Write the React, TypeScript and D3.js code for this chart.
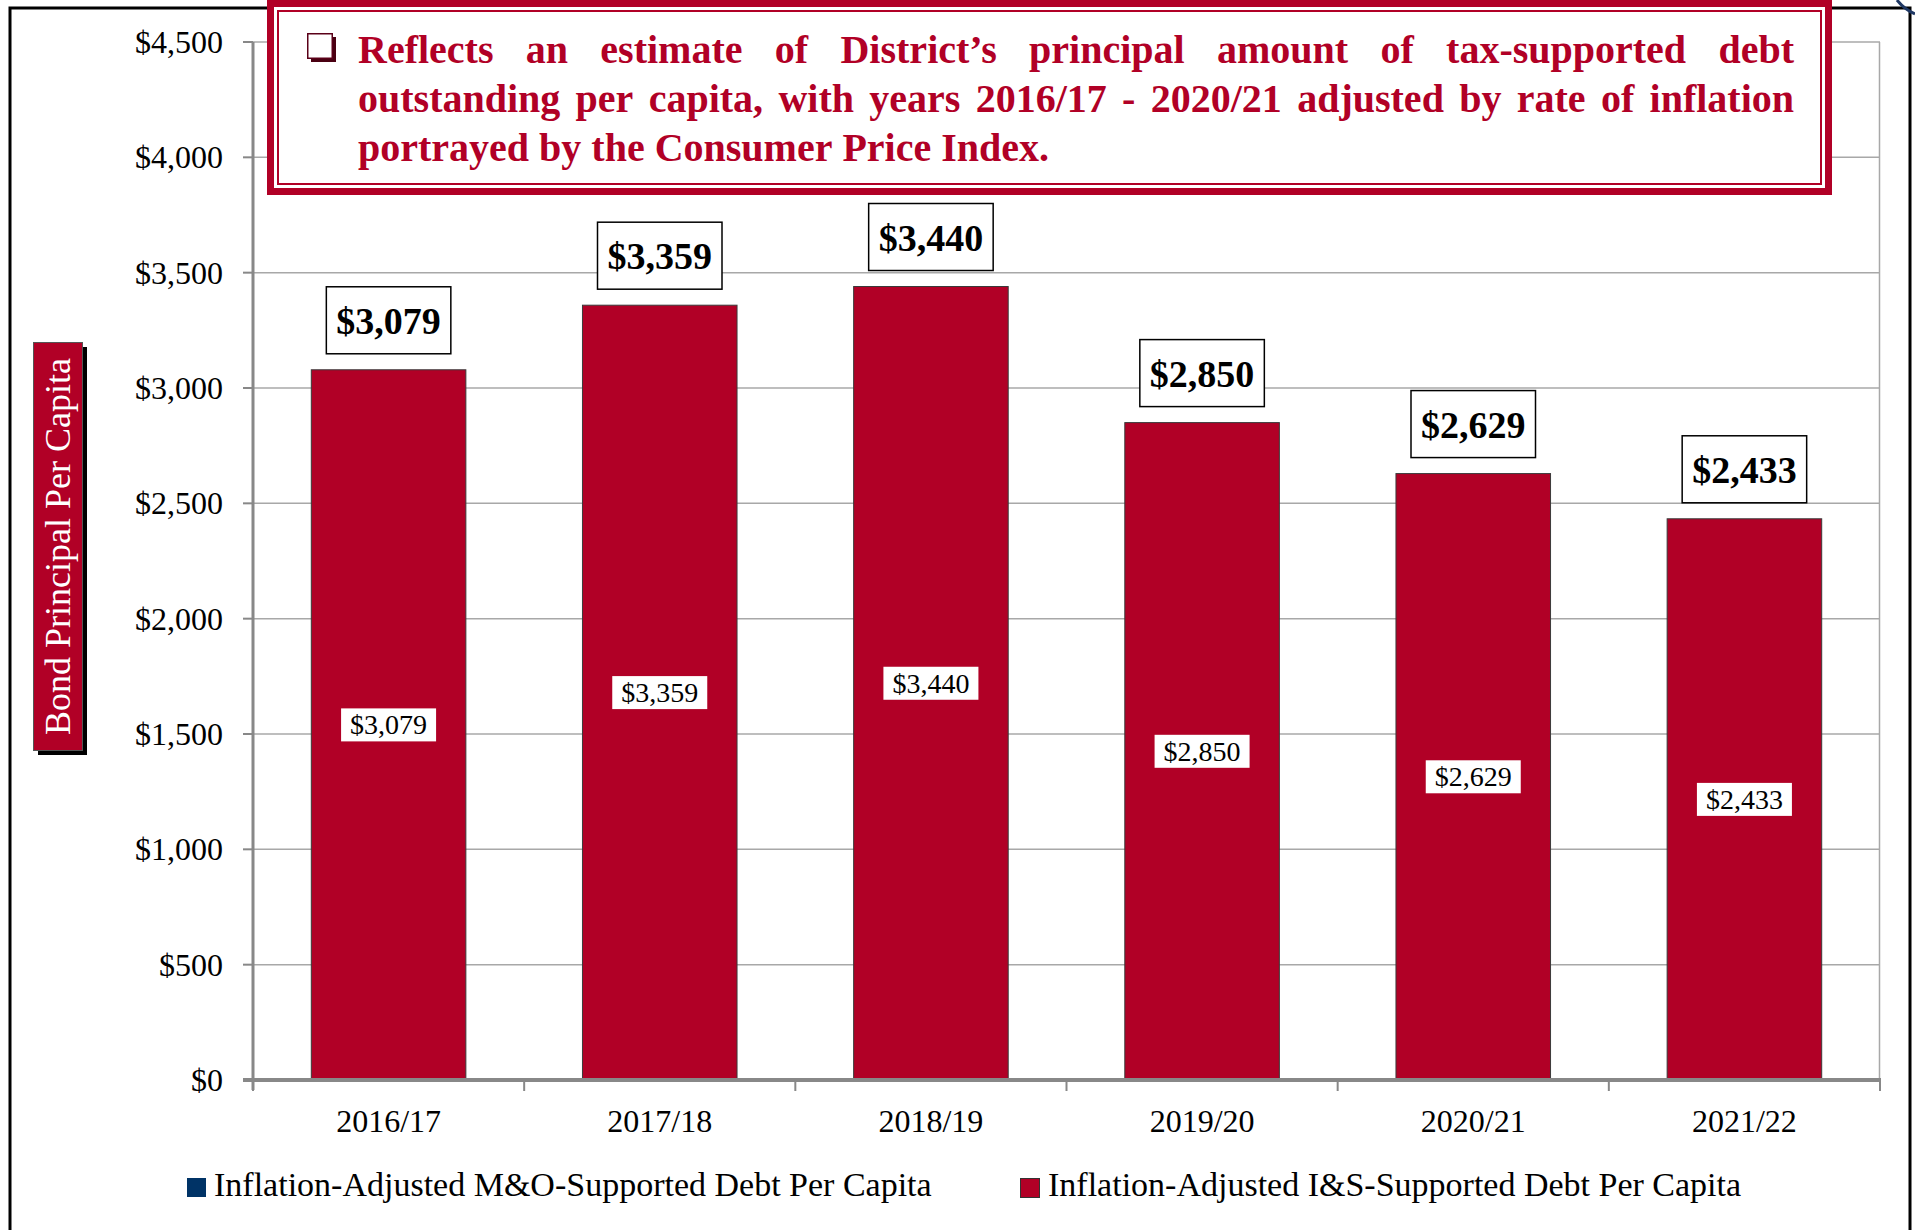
import React, { useMemo } from "react";
import * as d3 from "d3";

const categories = ["2016/17", "2017/18", "2018/19", "2019/20", "2020/21", "2021/22"];
const isValues = [3079, 3359, 3440, 2850, 2629, 2433];
const yTicks = [0, 500, 1000, 1500, 2000, 2500, 3000, 3500, 4000, 4500];
const legendLabels = [
  "Inflation-Adjusted M&O-Supported Debt Per Capita",
  "Inflation-Adjusted I&S-Supported Debt Per Capita",
];
const legendColors = ["#003366", "#B10026"];
const titleLines = [
  "Reflects an estimate of District\u2019s principal amount of tax-supported debt",
  "outstanding per capita, with years 2016/17 - 2020/21 adjusted by rate of inflation",
  "portrayed by the Consumer Price Index.",
];
const yAxisTitle = "Bond Principal Per Capita";

const W = 1915;
const H = 1230;
const FONT = '"Liberation Serif", "Times New Roman", serif';
const RED = "#B10026";

let _ctx: CanvasRenderingContext2D | null = null;
function measure(text: string, font: string): number {
  if (!_ctx) _ctx = document.createElement("canvas").getContext("2d");
  if (!_ctx) return text.length * 10;
  _ctx.font = font;
  return _ctx.measureText(text).width;
}

const fmt = (v: number) => "$" + d3.format(",")(v);

export default function App() {
  const x = d3.scaleBand<string>().domain(categories).range([253, 1880]).paddingInner(0.43).paddingOuter(0.215);
  const xStep = d3.scaleBand<string>().domain(categories).range([253, 1880]);
  const y = d3.scaleLinear().domain([0, 4500]).range([1080, 42]);

  const titleFontSize = 40;
  const titleFont = `bold ${titleFontSize}px ${FONT}`;
  const tLeft = 358;
  const tRight = 1794;

  const justified = useMemo(() => {
    return titleLines.map((line, li) => {
      const words = line.split(" ");
      const widths = words.map((w) => measure(w, titleFont));
      const spaceW = measure(" ", titleFont);
      const total = widths.reduce((a, b) => a + b, 0);
      const last = li === titleLines.length - 1;
      const gap = last ? spaceW : (tRight - tLeft - total) / (words.length - 1);
      let cx = tLeft;
      return words.map((w, i) => {
        const pos = cx;
        cx += widths[i] + gap;
        return { w, x: pos };
      });
    });
  }, []);

  const topFont = `bold 38px ${FONT}`;
  const inFont = `28px ${FONT}`;

  return (
    <svg
      width={W}
      height={H}
      viewBox={`0 0 ${W} ${H}`}
      style={{ position: "absolute", left: 0, top: 0, display: "block", background: "#fff" }}
      fontFamily={FONT}
    >
      <rect x={0} y={0} width={W} height={H} fill="#fff" />
      {/* outer frame */}
      <rect x={10} y={8} width={1900} height={1300} fill="none" stroke="#000" strokeWidth={3} />
      <path d="M1897,0 Q1904,9 1915,14" fill="none" stroke="#1f3864" strokeWidth={3} />

      {/* gridlines */}
      {yTicks.map((t) => (
        <line key={"g" + t} x1={253} x2={1880} y1={y(t)} y2={y(t)} stroke="#a8a8a8" strokeWidth={1.5} />
      ))}
      <line x1={1879.5} x2={1879.5} y1={y(4500)} y2={y(0)} stroke="#a8a8a8" strokeWidth={1.5} />

      {/* bars */}
      {categories.map((c, i) => (
        <rect
          key={"b" + c}
          x={x(c)}
          y={y(isValues[i])}
          width={x.bandwidth()}
          height={y(0) - y(isValues[i])}
          fill={RED}
          stroke="#3a3a3a"
          strokeWidth={1}
        />
      ))}

      {/* axes */}
      <line x1={253} x2={253} y1={y(4500)} y2={y(0) + 10} stroke="#888" strokeWidth={3} />
      <line x1={243} x2={1881} y1={y(0)} y2={y(0)} stroke="#888" strokeWidth={4} />
      {yTicks.map((t) => (
        <g key={"yt" + t}>
          <line x1={243} x2={253} y1={y(t)} y2={y(t)} stroke="#888" strokeWidth={2} />
          <text x={223} y={y(t) + 11} textAnchor="end" fontSize={32} fill="#000">
            {fmt(t)}
          </text>
        </g>
      ))}
      {categories.map((c, i) => (
        <g key={"xt" + c}>
          <line x1={xStep(c)!} x2={xStep(c)!} y1={y(0)} y2={y(0) + 11} stroke="#888" strokeWidth={2} />
          <text x={x(c)! + x.bandwidth() / 2} y={1132} textAnchor="middle" fontSize={32} fill="#000">
            {c}
          </text>
        </g>
      ))}
      <line x1={1880} x2={1880} y1={y(0)} y2={y(0) + 11} stroke="#888" strokeWidth={2} />

      {/* inner labels */}
      {categories.map((c, i) => {
        const label = fmt(isValues[i]);
        const tw = measure(label, inFont);
        const cx = x(c)! + x.bandwidth() / 2;
        const cy = (y(isValues[i]) + y(0)) / 2;
        return (
          <g key={"il" + c}>
            <rect x={cx - tw / 2 - 9} y={cy - 16.5} width={tw + 18} height={33} fill="#fff" />
            <text x={cx} y={cy + 9.5} textAnchor="middle" fontSize={28} fill="#000">
              {label}
            </text>
          </g>
        );
      })}

      {/* top labels */}
      {categories.map((c, i) => {
        const label = fmt(isValues[i]);
        const tw = measure(label, topFont);
        const cx = x(c)! + x.bandwidth() / 2;
        const bottom = y(isValues[i]) - 16;
        return (
          <g key={"tl" + c}>
            <rect x={cx - tw / 2 - 10} y={bottom - 67} width={tw + 20} height={67} fill="#fff" stroke="#000" strokeWidth={1.5} />
            <text x={cx} y={bottom - 20} textAnchor="middle" fontSize={38} fontWeight="bold" fill="#000">
              {label}
            </text>
          </g>
        );
      })}

      {/* title box */}
      <rect x={270.5} y={3.5} width={1558} height={188} fill="#fff" stroke={RED} strokeWidth={7} />
      <rect x={278} y={11} width={1543} height={173} fill="none" stroke={RED} strokeWidth={2} />
      {/* bullet square */}
      <rect x={311} y={37} width={25} height={25} fill="#4a0012" />
      <rect x={307.75} y={33.75} width={24.5} height={24.5} fill="#fff" stroke="#5a0018" strokeWidth={1.5} />
      {justified.map((words, li) => (
        <text key={"tt" + li} y={63 + li * 49} fontSize={titleFontSize} fontWeight="bold" fill={RED}>
          {words.map((wd, wi) => (
            <tspan key={wi} x={wd.x}>
              {wd.w}
            </tspan>
          ))}
        </text>
      ))}

      {/* y axis title */}
      <rect x={38} y={347} width={49} height={408} fill="#000" />
      <rect x={33.5} y={342.5} width={49} height={408} fill={RED} stroke="#555" strokeWidth={1} />
      <text
        transform={`translate(${58 + 12},${546.5}) rotate(-90)`}
        textAnchor="middle"
        fontSize={36}
        fill="#fff"
      >
        {yAxisTitle}
      </text>

      {/* legend */}
      <rect x={187} y={1178} width={19} height={19} fill={legendColors[0]} />
      <text x={214} y={1196} fontSize={34} fill="#000">
        {legendLabels[0]}
      </text>
      <rect x={1020.5} y={1178.5} width={19} height={19} fill={legendColors[1]} stroke="#333" strokeWidth={1} />
      <text x={1048} y={1196} fontSize={34} fill="#000">
        {legendLabels[1]}
      </text>
    </svg>
  );
}
